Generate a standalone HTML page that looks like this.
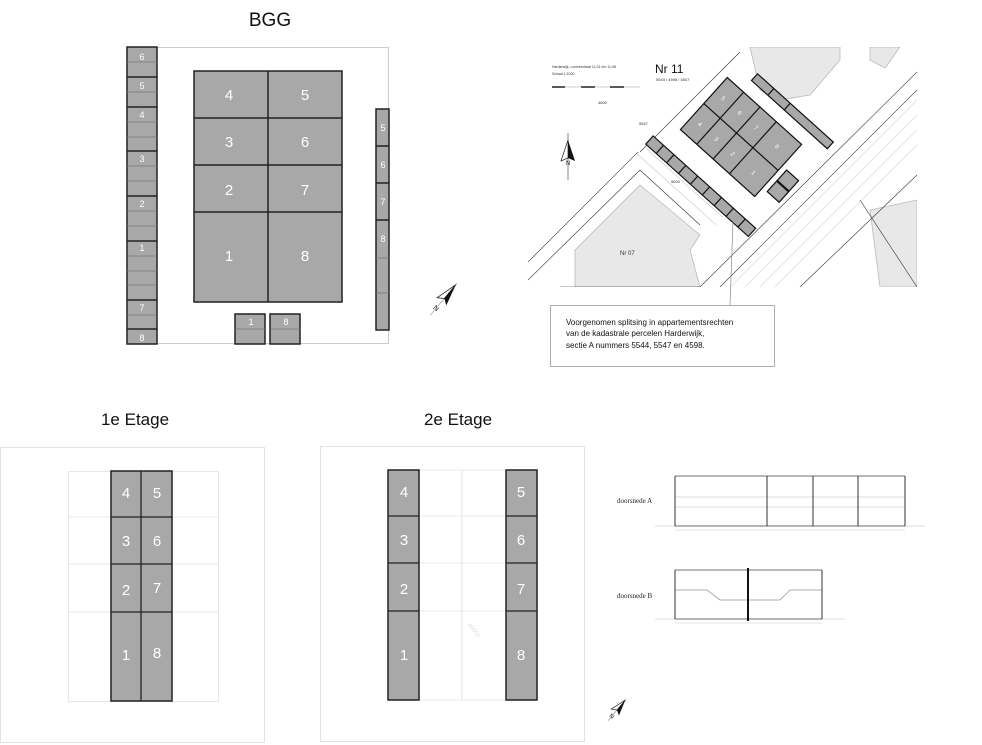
<!DOCTYPE html>
<html><head><meta charset="utf-8"><style>
html,body{margin:0;padding:0;background:#fff;}
svg{display:block;font-family:"Liberation Sans",sans-serif;}
</style></head><body>
<svg width="982" height="745" viewBox="0 0 982 745" xmlns="http://www.w3.org/2000/svg">
<!-- BGG -->
<text x="270" y="26" font-size="19" text-anchor="middle" fill="#111">BGG</text>
<rect x="127.5" y="47.5" width="261" height="296" fill="none" stroke="#ccc" stroke-width="1"/>
<g fill="#a8a8a8" stroke="#222" stroke-width="1.5">
<rect x="127" y="47" width="30" height="297"/>
<rect x="194" y="71" width="148" height="231"/>
<rect x="376" y="109" width="13" height="221"/>
<rect x="235" y="314" width="30" height="30"/>
<rect x="270" y="314" width="30" height="30"/>
</g>
<g stroke="#222" stroke-width="1.5">
<line x1="127" y1="77" x2="157" y2="77"/><line x1="127" y1="107" x2="157" y2="107"/><line x1="127" y1="151" x2="157" y2="151"/><line x1="127" y1="196" x2="157" y2="196"/><line x1="127" y1="241" x2="157" y2="241"/><line x1="127" y1="300" x2="157" y2="300"/><line x1="127" y1="329" x2="157" y2="329"/>
<line x1="268" y1="71" x2="268" y2="302"/><line x1="194" y1="118" x2="342" y2="118"/><line x1="194" y1="165" x2="342" y2="165"/><line x1="194" y1="212" x2="342" y2="212"/>
<line x1="376" y1="146" x2="389" y2="146"/><line x1="376" y1="183" x2="389" y2="183"/><line x1="376" y1="220" x2="389" y2="220"/>
</g>
<g stroke="#777" stroke-width="0.8">
<line x1="127" y1="62" x2="157" y2="62"/><line x1="127" y1="92" x2="157" y2="92"/><line x1="127" y1="122" x2="157" y2="122"/><line x1="127" y1="137" x2="157" y2="137"/><line x1="127" y1="166" x2="157" y2="166"/><line x1="127" y1="181" x2="157" y2="181"/><line x1="127" y1="211" x2="157" y2="211"/><line x1="127" y1="226" x2="157" y2="226"/><line x1="127" y1="256" x2="157" y2="256"/><line x1="127" y1="271" x2="157" y2="271"/><line x1="127" y1="285" x2="157" y2="285"/><line x1="127" y1="315" x2="157" y2="315"/>
<line x1="376" y1="258" x2="389" y2="258"/><line x1="376" y1="293" x2="389" y2="293"/>
<line x1="235" y1="329" x2="265" y2="329"/><line x1="270" y1="329" x2="300" y2="329"/>
</g>
<g fill="#fff" font-size="9" text-anchor="middle">
<text x="142" y="60">6</text><text x="142" y="89">5</text><text x="142" y="118">4</text><text x="142" y="162">3</text><text x="142" y="207">2</text><text x="142" y="251">1</text><text x="142" y="311">7</text><text x="142" y="341">8</text>
<text x="383" y="131">5</text><text x="383" y="168">6</text><text x="383" y="205">7</text><text x="383" y="242">8</text>
<text x="251" y="325">1</text><text x="286" y="325">8</text>
</g>
<g fill="#fff" font-size="15" text-anchor="middle">
<text x="229" y="100">4</text><text x="305" y="100">5</text><text x="229" y="147">3</text><text x="305" y="147">6</text><text x="229" y="195">2</text><text x="305" y="195">7</text><text x="229" y="261">1</text><text x="305" y="261">8</text>
</g>
<!-- compass BGG -->
<g transform="translate(443,300) rotate(40)">
<line x1="0" y1="-22" x2="0" y2="20" stroke="#999" stroke-width="0.7"/>
<polygon points="0,-20 -6,2 0,-2" fill="#fff" stroke="#222" stroke-width="0.8"/>
<polygon points="0,-20 6,2 0,-2" fill="#111"/>
<text x="0" y="13" font-size="7" text-anchor="middle" fill="#222">N</text>
</g>

<!-- Map -->
<defs><clipPath id="mc"><rect x="528" y="47" width="389" height="240"/></clipPath></defs>
<g clip-path="url(#mc)">
<rect x="528" y="47" width="389" height="240" fill="#fff"/>
<polygon points="750,47 840,47 840,60 810,95 780,100 760,90" fill="#e8e8e8" stroke="#c9b3b3" stroke-width="0.8"/>
<polygon points="870,47 900,47 885,68 870,60" fill="#e8e8e8" stroke="#c9b3b3" stroke-width="0.8"/>
<polygon points="575,250 640,185 700,235 690,250 700,287 575,287" fill="#e8e8e8" stroke="#c9b3b3" stroke-width="0.8"/>
<polygon points="870,210 917,200 917,287 880,287" fill="#e8e8e8" stroke="#c9b3b3" stroke-width="0.8"/>
<g stroke="#333" stroke-width="0.6" fill="none">
<line x1="528" y1="262" x2="638" y2="152"/>
<line x1="528" y1="280" x2="640" y2="170"/>
<line x1="640" y1="152" x2="740" y2="52"/>
<line x1="720" y1="287" x2="917" y2="90"/>
<line x1="700" y1="287" x2="917" y2="72"/>
<line x1="640" y1="170" x2="700" y2="225"/>
<line x1="700" y1="287" x2="560" y2="287"/>
<line x1="860" y1="200" x2="917" y2="287"/>
<line x1="800" y1="287" x2="917" y2="175"/>
</g>
<g stroke="#bbb" stroke-width="0.5">
<line x1="730" y1="287" x2="917" y2="100"/><line x1="745" y1="287" x2="917" y2="115"/><line x1="760" y1="287" x2="917" y2="130"/><line x1="775" y1="287" x2="917" y2="145"/>
</g>
<g transform="translate(741,137) rotate(42)">
<g fill="#a8a8a8" stroke="#111" stroke-width="1.2">
<rect x="-50" y="-35" width="100" height="70"/>
<rect x="-66" y="58" width="138" height="11"/>
<rect x="-30" y="-58" width="102" height="9"/>
<rect x="56" y="-6" width="16" height="14"/><rect x="56" y="9" width="16" height="14"/>
</g>
<g stroke="#111" stroke-width="1.2">
<line x1="-28" y1="-35" x2="-28" y2="35"/><line x1="-6" y1="-35" x2="-6" y2="35"/><line x1="16" y1="-35" x2="16" y2="35"/><line x1="-50" y1="0" x2="50" y2="0"/>
<line x1="-52" y1="58" x2="-52" y2="69"/><line x1="-38" y1="58" x2="-38" y2="69"/><line x1="-22" y1="58" x2="-22" y2="69"/><line x1="-6" y1="58" x2="-6" y2="69"/><line x1="10" y1="58" x2="10" y2="69"/><line x1="26" y1="58" x2="26" y2="69"/><line x1="42" y1="58" x2="42" y2="69"/><line x1="58" y1="58" x2="58" y2="69"/>
<line x1="-8" y1="-58" x2="-8" y2="-49"/><line x1="14" y1="-58" x2="14" y2="-49"/>
</g>
<g stroke="#bbb" stroke-width="0.5">
<line x1="-66" y1="72" x2="40" y2="72"/><line x1="-66" y1="82" x2="40" y2="82"/>
</g>
<g fill="#fff" font-size="6" text-anchor="middle">
<text x="-39" y="-15">5</text><text x="-39" y="20">4</text><text x="-17" y="-15">6</text><text x="-17" y="20">3</text><text x="5" y="-15">7</text><text x="5" y="20">2</text><text x="33" y="-15">8</text><text x="33" y="20">1</text>
</g>
</g>
<text x="552" y="68" font-size="3.5" fill="#333">Harderwijk, Lorentzstraat 11-01 t/m 11-08</text>
<text x="552" y="75" font-size="3.5" fill="#333">Schaal 1:1000</text>
<line x1="552" y1="87" x2="640" y2="87" stroke="#999" stroke-width="0.5"/>
<g stroke="#111" stroke-width="1.4"><line x1="552" y1="87" x2="565" y2="87"/><line x1="581" y1="87" x2="595" y2="87"/><line x1="610" y1="87" x2="624" y2="87"/></g>
<text x="655" y="73" font-size="12" fill="#111">Nr 11</text>
<text x="656" y="81" font-size="4" fill="#333">5544 / 4598 / 5547</text>
<text x="598" y="104" font-size="4" fill="#333">4600</text>
<text x="639" y="125" font-size="4" fill="#333">5547</text>
<text x="671" y="183" font-size="4" fill="#333">5600</text>
<text x="620" y="255" font-size="6" fill="#333">Nr 07</text>
<g transform="translate(568,158)">
<line x1="0" y1="-25" x2="0" y2="22" stroke="#333" stroke-width="0.6"/>
<polygon points="0,-18 -7,3 0,0" fill="#fff" stroke="#222" stroke-width="0.7"/>
<polygon points="0,-18 7,3 0,0" fill="#111"/>
<text x="0" y="7" font-size="6" text-anchor="middle" fill="#111">N</text>
</g>
</g>
<line x1="733" y1="222" x2="730" y2="305" stroke="#888" stroke-width="0.7"/>
<rect x="550.5" y="305.5" width="224" height="61" fill="#fff" stroke="#999" stroke-width="0.8"/>
<g font-size="8" fill="#111"><text x="566" y="325">Voorgenomen splitsing in appartementsrechten</text><text x="566" y="336">van de kadastrale percelen Harderwijk,</text><text x="566" y="348">sectie A nummers 5544, 5547 en 4598.</text></g>

<!-- 1e Etage -->
<text x="135" y="425" font-size="17" text-anchor="middle" fill="#111">1e Etage</text>
<rect x="0.5" y="447.5" width="264" height="295" fill="none" stroke="#e2e2e2"/>
<g stroke="#e0e0e0" stroke-width="0.8"><rect x="68.5" y="471.5" width="150" height="230" fill="none"/><line x1="68" y1="517" x2="218" y2="517"/><line x1="68" y1="564" x2="218" y2="564"/><line x1="68" y1="612" x2="218" y2="612"/></g>
<rect x="111" y="471" width="61" height="230" fill="#a8a8a8" stroke="#222" stroke-width="1.5"/>
<g stroke="#222" stroke-width="1.3"><line x1="141" y1="471" x2="141" y2="701"/><line x1="111" y1="517" x2="172" y2="517"/><line x1="111" y1="564" x2="172" y2="564"/><line x1="111" y1="612" x2="172" y2="612"/></g>
<g fill="#fff" font-size="15" text-anchor="middle"><text x="126" y="498">4</text><text x="157" y="498">5</text><text x="126" y="546">3</text><text x="157" y="546">6</text><text x="126" y="595">2</text><text x="157" y="593">7</text><text x="126" y="660">1</text><text x="157" y="658">8</text></g>

<!-- 2e Etage -->
<text x="458" y="425" font-size="17" text-anchor="middle" fill="#111">2e Etage</text>
<rect x="320.5" y="446.5" width="264" height="295" fill="none" stroke="#e2e2e2"/>
<g stroke="#e0e0e0" stroke-width="0.8"><line x1="419" y1="470" x2="506" y2="470"/><line x1="419" y1="700" x2="506" y2="700"/><line x1="462" y1="470" x2="462" y2="700"/><line x1="419" y1="516" x2="506" y2="516"/><line x1="419" y1="563" x2="506" y2="563"/><line x1="419" y1="611" x2="506" y2="611"/></g>
<text x="467" y="625" font-size="6" fill="#ddd" transform="rotate(50 467 625)">45502</text>
<g fill="#a8a8a8" stroke="#222" stroke-width="1.5"><rect x="388" y="470" width="31" height="230"/><rect x="506" y="470" width="31" height="230"/></g>
<g stroke="#222" stroke-width="1.3"><line x1="388" y1="516" x2="419" y2="516"/><line x1="388" y1="563" x2="419" y2="563"/><line x1="388" y1="611" x2="419" y2="611"/><line x1="506" y1="516" x2="537" y2="516"/><line x1="506" y1="563" x2="537" y2="563"/><line x1="506" y1="611" x2="537" y2="611"/></g>
<g fill="#fff" font-size="15" text-anchor="middle"><text x="404" y="497">4</text><text x="521" y="497">5</text><text x="404" y="545">3</text><text x="521" y="545">6</text><text x="404" y="594">2</text><text x="521" y="594">7</text><text x="404" y="660">1</text><text x="521" y="660">8</text></g>
<g transform="translate(617,710) rotate(40)">
<line x1="0" y1="-14" x2="0" y2="14" stroke="#999" stroke-width="0.7"/>
<polygon points="0,-13 -5,3 0,0" fill="#fff" stroke="#222" stroke-width="0.7"/>
<polygon points="0,-13 5,3 0,0" fill="#111"/>
<text x="0" y="10" font-size="6" text-anchor="middle" fill="#222">N</text>
</g>

<!-- Sections -->
<g font-family="Liberation Serif,serif" font-size="7" fill="#222"><text x="617" y="503">doorsnede A</text><text x="617" y="598">doorsnede B</text></g>
<g stroke="#bbb" stroke-width="0.6"><line x1="675" y1="497" x2="905" y2="497"/><line x1="675" y1="507" x2="905" y2="507"/><line x1="655" y1="526" x2="925" y2="526"/><line x1="655" y1="619" x2="845" y2="619"/></g>
<g stroke="#444" stroke-width="0.8" fill="none"><line x1="675" y1="476" x2="905" y2="476"/><line x1="675" y1="526" x2="905" y2="526"/><line x1="675" y1="570" x2="822" y2="570"/><line x1="675" y1="619" x2="822" y2="619"/><polyline points="675,590 707,590 720,600 780,600 790,590 822,590" stroke="#999"/></g>
<g stroke="#333" stroke-width="1"><line x1="675" y1="476" x2="675" y2="526"/><line x1="767" y1="476" x2="767" y2="526"/><line x1="813" y1="476" x2="813" y2="526"/><line x1="858" y1="476" x2="858" y2="526"/><line x1="905" y1="476" x2="905" y2="526"/><line x1="675" y1="570" x2="675" y2="619"/><line x1="822" y1="570" x2="822" y2="619"/></g>
<line x1="748" y1="568" x2="748" y2="621" stroke="#111" stroke-width="2"/>
<g stroke="#ccc" stroke-width="0.5"><line x1="675" y1="530" x2="905" y2="530"/><line x1="675" y1="623" x2="822" y2="623"/></g>
</svg>
</body></html>
